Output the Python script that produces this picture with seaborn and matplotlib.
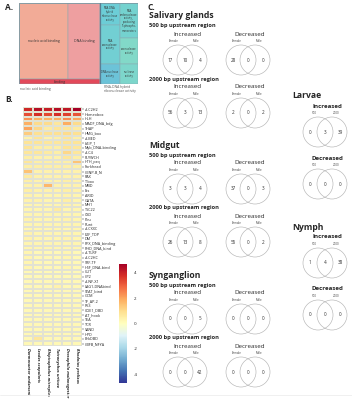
import numpy as np
import pandas as pd
import matplotlib
matplotlib.use("Agg")
import matplotlib.pyplot as plt
import seaborn as sns
from matplotlib.patches import Rectangle, Circle

sns.set_style("white")
plt.rcParams['font.family'] = ['Open Sans', 'DejaVu Sans']

# ---------------- data ----------------
# Panel A treemap (GO terms, area values)
tm_values = {
    "nucleic acid binding": 3724,
    "DNA binding": 2432,
    "binding": 405,
    "RNA-DNA\nhybrid\nribonuclease\nactivity": 440,
    "RNA\nexonuclease\nactivity": 780,
    "RNA\nendonuclease\nactivity,\nproducing\n5'-phospho-\nmonoesters": 630,
    "exonuclease\nactivity": 468,
    "DNA nuclease\nactivity": 400,
    "nuclease\nactivity": 360,
}
tm_colors = {
    "nucleic acid binding": "#f2ab97",
    "DNA binding": "#ee9fa0",
    "binding": "#e2495a",
    "RNA-DNA\nhybrid\nribonuclease\nactivity": "#6ccdd6",
    "RNA\nexonuclease\nactivity": "#72cfd3",
    "RNA\nendonuclease\nactivity,\nproducing\n5'-phospho-\nmonoesters": "#74d2cf",
    "exonuclease\nactivity": "#82d9c8",
    "DNA nuclease\nactivity": "#6cc3d8",
    "nuclease\nactivity": "#7dd6cb",
}

# Panel B heatmap
tf_families = ["zf-C2H2", "Homeobox", "HLH", "MADF_DNA_bdg", "THAP", "HMG_box", "zf-BED",
               "bZIP_1", "Myb_DNA-binding", "zf-C4", "FLYWCH", "HTH_psq", "Forkhead",
               "CENP-B_N", "PAX", "T-box", "MBD", "Ets", "ARID", "GATA", "MH1", "TSC22",
               "CSD", "Pou", "Runt", "zf-CXXC", "E2F_TDP", "DM", "RFX_DNA_binding",
               "RHD_DNA_bind", "zf-TLRF", "zf-C2HC", "SRF-TF", "HSF_DNA-bind", "CUT", "CP2",
               "zf-NF-X1", "LAG1-DNAbind", "STAT_bind", "GCM", "TF_AP-2", "P53", "COE1_DBD",
               "AT_hook", "TEA", "TCR", "SAND", "HPD", "BrkDBD", "CBFB_NFYA"]
species = ["Dermacentor andersoni", "Ixodes scapularis", "Rhipicephalus microplus",
           "Tetranychus urticae", "Drosophila melanogaster", "Rhodnius prolixus"]
hm_values = [
    [3.9, 4.4, 4.1, 4.4, 4.2, 4.7],
    [3.3, 3.8, 3.4, 3.8, 3.5, 3.2],
    [2.3, 1.8, 1.8, 1.9, 2.4, 2.0],
    [1.8, 1.0, 1.0, 0.7, 1.9, 1.0],
    [2.0, 1.1, 0.6, 0.8, 0.8, 0.6],
    [1.3, 0.9, 0.9, 0.9, 1.0, 0.9],
    [0.4, 0.8, 0.4, 0.5, 0.8, 0.5],
    [0.8, 0.8, 0.7, 0.7, 0.8, 0.8],
    [0.8, 0.5, 0.5, 0.5, 0.8, 0.7],
    [0.7, 0.7, 0.6, 0.5, 1.1, 0.7],
    [0.5, 0.4, 0.4, 0.4, 0.7, 0.5],
    [0.7, 0.5, 0.5, 0.5, 0.5, 1.5],
    [0.5, 0.5, 0.5, 0.5, 0.5, 0.5],
    [1.5, 0.4, 0.4, 0.4, 0.4, 0.4],
    [0.6, 0.4, 0.4, 0.4, 0.4, 0.4],
    [0.5, 0.4, 0.4, 0.4, 0.5, 0.4],
    [0.4, 0.4, 1.7, 0.4, 0.4, 0.4],
    [0.5, 0.4, 0.4, 0.4, 0.5, 0.4],
    [0.4, 0.3, 0.3, 0.3, 0.4, 0.3],
    [0.4, 0.4, 0.3, 0.3, 0.5, 0.3],
    [0.3, 0.3, 0.3, 0.3, 0.4, 0.3],
    [0.3, 0.3, 0.3, 0.6, 0.3, 0.3],
    [0.3, 0.3, 0.3, 0.3, 0.3, 0.3],
    [0.4, 0.3, 0.3, 0.3, 0.4, 0.3],
    [0.3, 0.3, 0.3, 0.3, 0.3, 0.3],
    [0.3, 0.3, 0.3, 0.3, 0.3, 0.3],
    [0.4, 0.3, 0.3, 0.3, 0.3, 0.3],
    [0.4, 0.3, 0.3, 0.3, 0.4, 0.3],
    [0.3, 0.3, 0.3, 0.3, 0.3, 0.3],
    [0.3, 0.3, 0.3, 0.3, 0.3, 0.3],
    [0.3, 0.2, 0.2, 0.2, 0.3, 0.2],
    [0.3, 0.2, 0.2, 0.2, 0.3, 0.2],
    [0.3, 0.2, 0.2, 0.2, 0.2, 0.2],
    [0.3, 0.2, 0.2, 0.2, 0.3, 0.2],
    [0.2, 0.2, 0.2, 0.2, 0.2, 0.2],
    [0.2, 0.2, 0.2, 0.2, 0.2, 0.2],
    [0.2, 0.2, 0.2, 0.2, 0.2, 0.2],
    [0.2, 0.2, 0.2, 0.4, 0.2, 0.2],
    [0.2, 0.2, 0.2, 0.2, 0.2, 0.2],
    [0.2, 0.2, 0.2, 0.2, 0.2, 0.2],
    [0.2, 0.2, 0.2, 0.2, 0.2, 0.2],
    [0.2, 0.2, 0.2, 0.2, 0.2, 0.2],
    [0.2, 0.2, 0.2, 0.2, 0.2, 0.2],
    [0.2, 0.2, 0.2, 0.2, 0.2, 0.2],
    [0.2, 0.2, 0.2, 0.2, 0.2, 0.2],
    [0.2, 0.2, 0.2, 0.2, 0.2, 0.2],
    [0.2, 0.2, 0.2, 0.2, 0.2, 0.2],
    [0.2, 0.2, 0.2, 0.2, 0.2, 0.2],
    [0.2, 0.7, 0.2, 0.2, 0.2, 0.2],
    [0.2, 0.2, 0.2, 0.2, 0.2, 0.2],
]
cbar_ticks = [4, 2, 0, -2, -4]

# Panel C venn counts [left only, both, right only]
sal_500_inc = [17, 10, 4]
sal_500_dec = [28, 0, 0]
sal_2000_inc = [56, 3, 13]
sal_2000_dec = [2, 0, 2]
mid_500_inc = [3, 3, 4]
mid_500_dec = [37, 0, 3]
mid_2000_inc = [26, 13, 8]
mid_2000_dec = [55, 0, 2]
syn_500_inc = [0, 0, 5]
syn_500_dec = [0, 0, 0]
syn_2000_inc = [0, 0, 42]
syn_2000_dec = [0, 0, 0]
larvae_inc = [0, 3, 39]
larvae_dec = [0, 0, 0]
nymph_inc = [1, 4, 38]
nymph_dec = [0, 0, 0]

# ---------------- figure ----------------
W, H = 352, 400
fig = plt.figure(figsize=(W / 100, H / 100), dpi=100)
fig.patch.set_facecolor("white")


def ax_px(x0, y0, x1, y1):
    return fig.add_axes([x0 / W, 1 - y1 / H, (x1 - x0) / W, (y1 - y0) / H])


# ---- Panel A: treemap ----
tree = ('h', [
    ('v', [('h', ["nucleic acid binding", "DNA binding"]), "binding"]),
    ('v', [('h', [('v', ["RNA-DNA\nhybrid\nribonuclease\nactivity", "RNA\nexonuclease\nactivity"]),
                  ('v', ["RNA\nendonuclease\nactivity,\nproducing\n5'-phospho-\nmonoesters",
                         "exonuclease\nactivity"])]),
           ('h', ["DNA nuclease\nactivity", "nuclease\nactivity"])]),
])


def node_size(n):
    if isinstance(n, tuple):
        return sum(node_size(k) for k in n[1])
    return tm_values[n]


def layout(n, x, y, w, h, out):
    if isinstance(n, tuple):
        d, kids = n
        tot = node_size(n)
        off = 0.0
        for k in kids:
            s = node_size(k) / tot
            if d == 'h':
                layout(k, x + off * w, y, w * s, h, out)
            else:
                layout(k, x, y + off * h, w, h * s, out)
            off += s
    else:
        out.append((n, x, y, w, h))


cells = []
layout(tree, 0, 0, 1, 1, cells)
tax = ax_px(19, 3, 138, 84)
tax.set_xlim(0, 1)
tax.set_ylim(1, 0)
tax.axis("off")
for name, x, y, w, h in cells:
    tax.add_patch(Rectangle((x, y), w, h, facecolor=tm_colors[name],
                            edgecolor="#8aa8b0", lw=0.35))
    if name in ("nucleic acid binding", "DNA binding", "binding"):
        fs = 2.5
    else:
        fs = 1.9
    tax.text(x + w / 2, y + h / 2, name, ha="center", va="center", fontsize=fs,
             color="#333333", linespacing=1.0)
red_frac = node_size(tree[1][0]) / node_size(tree)
tax.axvline(red_frac, color="#5b7f93", lw=0.9)
tax.add_patch(Rectangle((0, 0), 1, 1, fill=False, edgecolor="#7a9aa5", lw=0.6))

# ---- Panel B: heatmap ----
df = pd.DataFrame(hm_values, index=tf_families, columns=species)
hax = ax_px(23, 107, 82, 346)
cax = ax_px(119, 264, 127, 383)
sns.heatmap(df, ax=hax, cmap="RdYlBu_r", vmin=-4.7, vmax=4.7, cbar_ax=cax,
            linewidths=0.25, linecolor="#e2e2d2", xticklabels=True, yticklabels=True)
hax.yaxis.tick_right()
hax.set_yticklabels(tf_families, rotation=0, fontsize=2.7, color="#222222")
hax.set_xticklabels(species, rotation=270, fontsize=3.0, style="italic",
                    fontweight="bold", color="#222222", va="top", ha="center")
hax.tick_params(axis="y", length=1.2, width=0.3, pad=0.8, right=True, left=False)
hax.tick_params(axis="x", length=0, pad=1.5)
hax.set_xlabel("")
hax.set_ylabel("")
cax.set_yticks(cbar_ticks)
cax.set_yticklabels([str(t) for t in cbar_ticks])
cax.tick_params(labelsize=3.2, length=0, pad=5)
for s in cax.spines.values():
    s.set_visible(False)

# ---- overlay axes for texts and venns ----
ov = fig.add_axes([0, 0, 1, 1], facecolor="none")
ov.set_xlim(0, W)
ov.set_ylim(H, 0)
ov.axis("off")

ov.text(5, 8, "A.", fontsize=6, fontweight="bold", va="center")
ov.text(5, 100, "B.", fontsize=6, fontweight="bold", va="center")
ov.text(147, 8, "C.", fontsize=6, fontweight="bold", va="center")
ov.text(20, 89, "nucleic acid binding", fontsize=2.4, color="#555555", va="center")
ov.text(104, 89, "RNA-DNA hybrid\nribonuclease activity", fontsize=2.4, color="#555555",
        va="center", linespacing=1.0)
ov.plot([0, W], [395, 395], color="#eeeeee", lw=0.6)

R, D = 15, 14


def venn(cx, cy, counts, setlabels):
    c1, c2 = cx - D / 2, cx + D / 2
    for c in (c1, c2):
        ov.add_patch(Circle((c, cy), R, fill=False, ec="#b5b5b5", lw=0.45))
    for xx, v in zip((cx - R, cx, cx + R), counts):
        ov.text(xx, cy, str(v), ha="center", va="center", fontsize=3.3, color="#333333")
    ov.text(c1 - 4, cy - R - 2, setlabels[0], ha="center", va="bottom", fontsize=2.2,
            color="#444444")
    ov.text(c2 + 4, cy - R - 2, setlabels[1], ha="center", va="bottom", fontsize=2.2,
            color="#444444")


XI, XD = 185, 248


def organ_block(y0, title, data):
    ov.text(149, y0, title, fontsize=6.2, fontweight="bold", va="center")
    for k, (label, inc, dec) in enumerate(data):
        yb = y0 + 10 + k * 53
        ov.text(149, yb, label, fontsize=4.1, fontweight="bold", va="center")
        ov.text(XI + 2, yb + 8, "Increased", fontsize=4.4, ha="center", va="center")
        ov.text(XD + 2, yb + 8, "Decreased", fontsize=4.4, ha="center", va="center")
        venn(XI, yb + 34, inc, ("Female", "Male"))
        venn(XD, yb + 34, dec, ("Female", "Male"))


organ_block(16, "Salivary glands", [("500 bp upstream region", sal_500_inc, sal_500_dec),
                                     ("2000 bp upstream region", sal_2000_inc, sal_2000_dec)])
organ_block(145, "Midgut", [("500 bp upstream region", mid_500_inc, mid_500_dec),
                            ("2000 bp upstream region", mid_2000_inc, mid_2000_dec)])
organ_block(275, "Synganglion", [("500 bp upstream region", syn_500_inc, syn_500_dec),
                                 ("2000 bp upstream region", syn_2000_inc, syn_2000_dec)])

XL = 325


def stage_block(y0, title, inc, dec):
    ov.text(292, y0, title, fontsize=6.2, fontweight="bold", va="center")
    ov.text(XL + 2, y0 + 10, "Increased", fontsize=4.4, fontweight="bold", ha="center", va="center")
    venn(XL, y0 + 36, inc, ("500", "2000"))
    ov.text(XL + 2, y0 + 62, "Decreased", fontsize=4.4, fontweight="bold", ha="center", va="center")
    venn(XL, y0 + 88, dec, ("500", "2000"))


stage_block(96, "Larvae", larvae_inc, larvae_dec)
stage_block(227, "Nymph", nymph_inc, nymph_dec)

fig.savefig("out.png", dpi=100, facecolor="white")
